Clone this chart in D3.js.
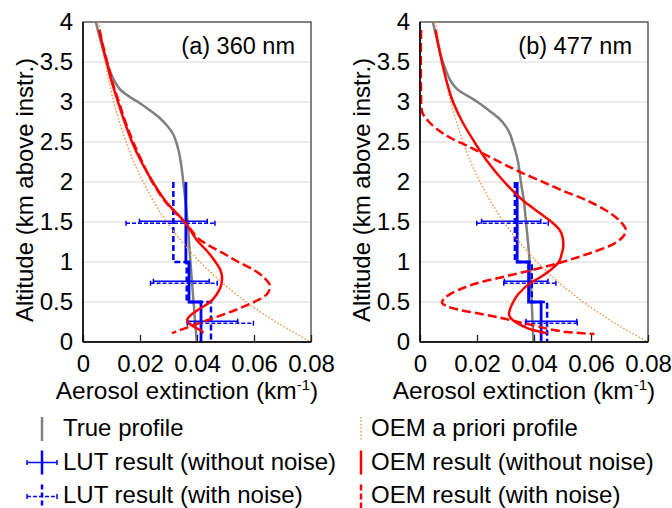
<!DOCTYPE html>
<html>
<head>
<meta charset="utf-8">
<script src="https://cdn.jsdelivr.net/npm/d3@7"></script>
<style>
  body { margin: 0; background: #fff; }
  svg { display: block; font-family: "Liberation Sans", Arial, sans-serif; }
</style>
</head>
<body>
<svg id="chart" width="672" height="508"></svg>
<script>
// ---- data: [altitude km, extinction km-1] ----
const xTicks = [0, 0.02, 0.04, 0.06, 0.08];
const yTicks = [0, 0.5, 1, 1.5, 2, 2.5, 3, 3.5, 4];

const trueProfileA = [[4.0,0.0045],[3.75,0.0063],[3.5,0.0083],[3.35,0.0099],[3.25,0.0112],[3.15,0.0132],
  [3.05,0.0170],[3.0,0.0193],[2.9,0.0233],[2.8,0.0269],[2.7,0.0296],[2.6,0.0316],[2.5,0.0327],[2.4,0.0335],
  [2.25,0.0343],[2.0,0.0352],[1.75,0.0360],[1.5,0.0367],[1.0,0.0377],[0.5,0.0388],[0.0,0.0399]];
const trueProfileB = [[4.0,0.0045],[3.75,0.0062],[3.5,0.0080],[3.35,0.0096],[3.25,0.0110],[3.15,0.0134],
  [3.05,0.0180],[3.0,0.0202],[2.9,0.0240],[2.8,0.0276],[2.7,0.0300],[2.6,0.0316],[2.5,0.0325],[2.4,0.0334],
  [2.25,0.0344],[2.0,0.0354],[1.75,0.0365],[1.5,0.0372],[1.0,0.0385],[0.5,0.0392],[0.0,0.0398]];

const aprioriProfile = [[4.0,0.0056],[3.75,0.0066],[3.5,0.0078],[3.25,0.0092],[3.0,0.0108],[2.75,0.0128],
  [2.5,0.0151],[2.25,0.0178],[2.0,0.0211],[1.75,0.0249],[1.5,0.0294],[1.25,0.0348],[1.0,0.0411],
  [0.75,0.0485],[0.5,0.0573],[0.25,0.0677],[0.0,0.0800]];

const oemA = [[3.9,0.0057],[3.75,0.0066],[3.5,0.0083],[3.25,0.0101],[3.0,0.0123],[2.75,0.0146],[2.5,0.0172],
  [2.25,0.0205],[2.0,0.0245],[1.75,0.0292],[1.5,0.0357],[1.25,0.0405],[1.15,0.0432],[1.0,0.0465],[0.9,0.0482],
  [0.8,0.0488],[0.7,0.0484],[0.6,0.0470],[0.5,0.0446],[0.4,0.0403],[0.33,0.0376],[0.28,0.0366],[0.23,0.0372],
  [0.18,0.0395],[0.14,0.0415],[0.11,0.0422]];
const oemNoiseA = [[3.9,0.0058],[3.75,0.0067],[3.5,0.0085],[3.25,0.0103],[3.0,0.0126],[2.75,0.0149],[2.5,0.0176],
  [2.25,0.0208],[2.0,0.0243],[1.75,0.0290],[1.5,0.0356],[1.4,0.0380],[1.3,0.0402],[1.2,0.0445],[1.1,0.0497],
  [1.0,0.0545],[0.9,0.0600],[0.8,0.0637],[0.7,0.0656],[0.62,0.0650],[0.55,0.0628],[0.5,0.0600],[0.4,0.0535],
  [0.3,0.0458],[0.2,0.0380],[0.11,0.0312]];

const oemB = [[3.9,0.0054],[3.75,0.0062],[3.5,0.0077],[3.25,0.0094],[3.0,0.0116],[2.75,0.0149],[2.5,0.0191],
  [2.25,0.0238],[2.0,0.0296],[1.75,0.0368],[1.6,0.0425],[1.5,0.0462],[1.4,0.0490],[1.3,0.0501],[1.2,0.0503],
  [1.1,0.0497],[1.0,0.0487],[0.9,0.0458],[0.8,0.0418],[0.75,0.0393],[0.6,0.0345],[0.5,0.0327],[0.4,0.0315],
  [0.35,0.0312],[0.3,0.0318],[0.25,0.0335],[0.2,0.0360],[0.15,0.0395],[0.11,0.0445]];
const oemNoiseB = [[3.9,0.0004],[3.5,0.0003],[3.0,0.0004],[2.9,0.0006],[2.82,0.0015],[2.75,0.0032],[2.67,0.0056],
  [2.55,0.0108],[2.44,0.0173],[2.3,0.0252],[2.13,0.0348],[2.0,0.0432],[1.9,0.0495],[1.775,0.0582],[1.65,0.0650],
  [1.5,0.0705],[1.4,0.0722],[1.3,0.0708],[1.2,0.0665],[1.11,0.0596],[1.0,0.0500],[0.9,0.0395],[0.8,0.0275],
  [0.75,0.0215],[0.65,0.0135],[0.55,0.0087],[0.5,0.0077],[0.45,0.0092],[0.4,0.0140],[0.35,0.0215],[0.3,0.0285],
  [0.25,0.0345],[0.2,0.0408],[0.15,0.0470],[0.125,0.0515],[0.1,0.0612]];

// LUT layers (bottom, top) and the retrieved value per layer
const lutLayers = [[1.0, 2.0], [0.5, 1.0], [0.0, 0.5]];
const lutA = [0.0361, 0.0372, 0.0414];
const lutNoiseA = [0.0317, 0.0364, 0.0449];
const lutErrA = [[0.0198, 0.0436], [0.0247, 0.0443], [0.0366, 0.0543]];
const lutErrNoiseA = [[0.0151, 0.0463], [0.0237, 0.0471], [0.0366, 0.0598]];
const lutB = [0.0341, 0.0381, 0.0425];
const lutNoiseB = [0.0333, 0.0392, 0.0446];
const lutErrB = [[0.0216, 0.0424], [0.0296, 0.0449], [0.0372, 0.0550]];
const lutErrNoiseB = [[0.0199, 0.0450], [0.0294, 0.0477], [0.0370, 0.0552]];

const legendLeft = ["True profile", "LUT result (without noise)", "LUT result (with noise)"];
const legendRight = ["OEM a priori profile", "OEM result (without noise)", "OEM result (with noise)"];

// ---- drawing ----
const GRAY = "#808080", RED = "#ff0000", BLUE = "#0000ff", ORANGE = "#f79646";
const svg = d3.select("#chart");
const plotTop = 22, plotBottom = 342, fs = 24;

const y = d3.scaleLinear().domain([0, 4]).range([plotBottom, plotTop]);

function drawPanel(p) {
  const x = d3.scaleLinear().domain([0, 0.08]).range([p.left, p.left + 228]);
  const g = svg.append("g");

  // grid
  g.selectAll("line.grid").data(yTicks.filter(d => d > 0 && d < 4)).enter()
    .append("line").attr("class", "grid")
    .attr("x1", x(0)).attr("x2", x(0.08))
    .attr("y1", d => y(d)).attr("y2", d => y(d))
    .attr("stroke", "#d9d9d9").attr("stroke-width", 1);

  // frame
  g.append("rect").attr("x", x(0)).attr("y", y(4))
    .attr("width", x(0.08) - x(0)).attr("height", y(0) - y(4))
    .attr("fill", "none").attr("stroke", "#404040").attr("stroke-width", 1.3);

  const line = d3.line().x(d => x(d[1])).y(d => y(d[0])).curve(d3.curveMonotoneY);

  g.append("path").datum(p.truth).attr("d", line)
    .attr("fill", "none").attr("stroke", GRAY).attr("stroke-width", 2.5);

  // LUT step profiles
  function steps(vals) {
    const pts = [];
    lutLayers.forEach((l, i) => { pts.push([l[1], vals[i]], [l[0], vals[i]]); });
    return pts;
  }
  const stepLine = d3.line().x(d => x(d[1])).y(d => y(d[0]));
  g.append("path").datum(steps(p.lutNoise)).attr("d", stepLine)
    .attr("fill", "none").attr("stroke", BLUE).attr("stroke-width", 2.5).attr("stroke-dasharray", "6,3");
  g.append("path").datum(steps(p.lut)).attr("d", stepLine)
    .attr("fill", "none").attr("stroke", BLUE).attr("stroke-width", 2.8);

  // error bars
  function errBars(err, dy, dash) {
    const eg = g.append("g").attr("stroke", BLUE).attr("stroke-width", 1.5).attr("fill", "none");
    err.forEach((e, i) => {
      const cy = y((lutLayers[i][0] + lutLayers[i][1]) / 2) + dy;
      eg.append("line").attr("x1", x(e[0])).attr("x2", x(e[1])).attr("y1", cy).attr("y2", cy)
        .attr("stroke-dasharray", dash);
      e.forEach(v => eg.append("line").attr("x1", x(v)).attr("x2", x(v))
        .attr("y1", cy - 2.5).attr("y2", cy + 2.5));
    });
  }
  errBars(p.errNoise, 1.2, "4,2");
  errBars(p.err, -0.8, null);

  g.append("path").datum(aprioriProfile).attr("d", line)
    .attr("fill", "none").attr("stroke", ORANGE).attr("stroke-width", 1.5).attr("stroke-dasharray", "1.5,2");
  g.append("path").datum(p.oem).attr("d", line)
    .attr("fill", "none").attr("stroke", RED).attr("stroke-width", 2.5);
  g.append("path").datum(p.oemNoise).attr("d", line)
    .attr("fill", "none").attr("stroke", RED).attr("stroke-width", 2.5).attr("stroke-dasharray", "9,4");

  // axes
  const xAxis = d3.axisBottom(x).tickValues(xTicks).tickSize(-7).tickPadding(13)
    .tickFormat(d => d === 0 ? "0" : d3.format(".2f")(d));
  const xa = g.append("g").attr("transform", `translate(0,${plotBottom})`).call(xAxis);
  xa.select(".domain").remove();
  xa.selectAll("line").attr("stroke", "#222").attr("stroke-width", 1.3);
  xa.selectAll("text").attr("font-size", fs).attr("fill", "#000").attr("font-family", null);

  const yAxis = d3.axisLeft(y).tickValues(yTicks).tickSize(0).tickPadding(10).tickFormat(d3.format("~g"));
  const ya = g.append("g").attr("transform", `translate(${x(0)},0)`).call(yAxis);
  ya.select(".domain").remove();
  ya.selectAll("text").attr("font-size", fs).attr("fill", "#000").attr("font-family", null);

  g.append("line").attr("x1", x(0)).attr("x2", x(0)).attr("y1", y(0)).attr("y2", y(4))
    .attr("stroke", "#000").attr("stroke-width", 1.5);
  g.append("line").attr("x1", x(0)).attr("x2", x(0.08)).attr("y1", y(0)).attr("y2", y(0))
    .attr("stroke", "#000").attr("stroke-width", 1.5);

  // titles
  g.append("text").attr("x", x(0.08) - 16).attr("y", 54).attr("text-anchor", "end")
    .attr("font-size", 23.5).text(p.label);
  const xt = g.append("text").attr("x", (x(0) + x(0.08)) / 2 - 10).attr("y", 399)
    .attr("text-anchor", "middle").attr("font-size", 24.5);
  xt.append("tspan").text("Aerosol extinction (km");
  xt.append("tspan").attr("font-size", 15).attr("dy", -9).text("-1");
  xt.append("tspan").attr("dy", 9).text(")");
  g.append("text").attr("transform", `translate(${x(0) - 50},190) rotate(-90)`)
    .attr("text-anchor", "middle").attr("font-size", fs).text("Altitude (km above instr.)");
}

drawPanel({ left: 83, label: "(a) 360 nm", truth: trueProfileA, oem: oemA, oemNoise: oemNoiseA,
  lut: lutA, lutNoise: lutNoiseA, err: lutErrA, errNoise: lutErrNoiseA });
drawPanel({ left: 420, label: "(b) 477 nm", truth: trueProfileB, oem: oemB, oemNoise: oemNoiseB,
  lut: lutB, lutNoise: lutNoiseB, err: lutErrB, errNoise: lutErrNoiseB });

// ---- legend ----
const rowY = [436, 469.5, 502.5];
const lg = svg.append("g").attr("font-size", fs);
legendLeft.forEach((t, i) => lg.append("text").attr("x", 63).attr("y", rowY[i]).text(t));
legendRight.forEach((t, i) => lg.append("text").attr("x", 371).attr("y", rowY[i]).text(t));

function vline(cx, cy, color, w, dash) {
  lg.append("line").attr("x1", cx).attr("x2", cx).attr("y1", cy - 12).attr("y2", cy + 12)
    .attr("stroke", color).attr("stroke-width", w).attr("stroke-dasharray", dash);
}
vline(42, rowY[0] - 7, GRAY, 2.5, null);
vline(42, rowY[1] - 7, BLUE, 2.5, null);
vline(42, rowY[2] - 6, BLUE, 2.5, "5,3");
[[rowY[1] - 7, null], [rowY[2] - 6, "4,2"]].forEach(([cy, dash]) => {
  lg.append("line").attr("x1", 27).attr("x2", 57).attr("y1", cy).attr("y2", cy)
    .attr("stroke", BLUE).attr("stroke-width", 1.5).attr("stroke-dasharray", dash);
  [27, 57].forEach(v => lg.append("line").attr("x1", v).attr("x2", v).attr("y1", cy - 2.5).attr("y2", cy + 2.5)
    .attr("stroke", BLUE).attr("stroke-width", 1.5));
});
vline(361, rowY[0] - 7, ORANGE, 1.5, "1.5,2");
vline(361, rowY[1] - 7, RED, 2.5, null);
vline(361, rowY[2] - 6, RED, 2.5, "6,3");
</script>
</body>
</html>
